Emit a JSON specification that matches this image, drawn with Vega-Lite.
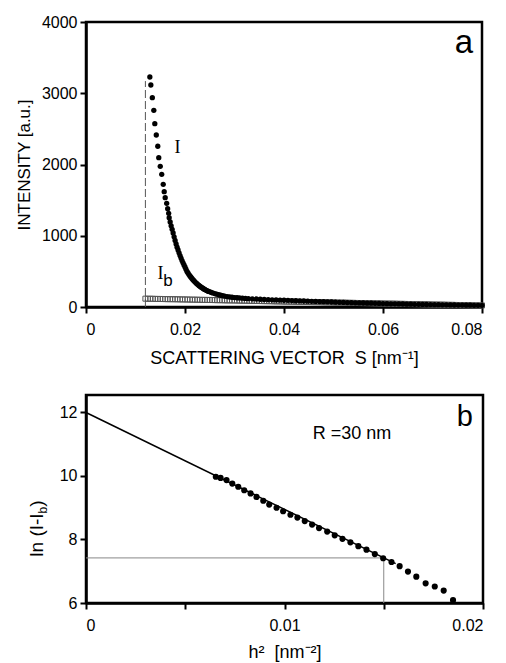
{
  "$schema": "https://vega.github.io/schema/vega-lite/v6.json",
  "background": "white",
  "padding": {"left": 14, "top": 12, "right": 2, "bottom": 2},
  "bounds": "flush",
  "spacing": 88,
  "config": {
    "font": "Liberation Sans",
    "view": {"stroke": "black", "strokeWidth": 2.5},
    "axis": {
      "labelFont": "Liberation Sans", "labelFontSize": 16, "labelColor": "black",
      "titleFont": "Liberation Sans", "titleFontSize": 17, "titleFontWeight": "normal", "titleColor": "black",
      "domainColor": "black", "domainWidth": 2.5, "tickColor": "black", "tickWidth": 2, "tickSize": 6,
      "grid": false
    }
  },
  "datasets": {
    "intensity": [
      {"s":0.0129,"v":3228},{"s":0.0131,"v":3116},{"s":0.0134,"v":2938},{"s":0.0137,"v":2761},{"s":0.0139,"v":2573},
      {"s":0.0142,"v":2414},{"s":0.0145,"v":2256},{"s":0.0147,"v":2096},{"s":0.0150,"v":1975},{"s":0.0153,"v":1862},
      {"s":0.0156,"v":1722},{"s":0.0158,"v":1618},{"s":0.0160,"v":1534},{"s":0.0163,"v":1455},{"s":0.0165,"v":1380},
      {"s":0.0167,"v":1315},{"s":0.0168,"v":1253},{"s":0.0170,"v":1193},{"s":0.0172,"v":1140},{"s":0.0174,"v":1090},
      {"s":0.0176,"v":1040},{"s":0.0178,"v":985},{"s":0.0180,"v":935},{"s":0.0182,"v":885},{"s":0.0184,"v":840},
      {"s":0.0186,"v":800},{"s":0.0188,"v":760},{"s":0.0190,"v":722},{"s":0.0192,"v":686},{"s":0.0194,"v":652},
      {"s":0.0196,"v":620},{"s":0.0198,"v":590},{"s":0.0200,"v":562},{"s":0.0202,"v":530},{"s":0.0204,"v":500},
      {"s":0.0206,"v":477},{"s":0.0208,"v":455},{"s":0.0210,"v":436},{"s":0.0212,"v":418},{"s":0.0214,"v":400},
      {"s":0.0216,"v":384},{"s":0.0218,"v":369},{"s":0.0220,"v":354},{"s":0.0222,"v":340},{"s":0.0224,"v":327},
      {"s":0.0226,"v":315},{"s":0.0228,"v":303},{"s":0.0230,"v":292},{"s":0.0232,"v":282},{"s":0.0234,"v":272},
      {"s":0.0236,"v":263},{"s":0.0238,"v":254},{"s":0.0240,"v":246},{"s":0.0242,"v":238},{"s":0.0244,"v":231},
      {"s":0.0246,"v":224},{"s":0.0248,"v":218},{"s":0.0252,"v":207},{"s":0.0256,"v":197},{"s":0.0260,"v":188},
      {"s":0.0264,"v":180},{"s":0.0268,"v":172},{"s":0.0272,"v":165},{"s":0.0276,"v":159},{"s":0.0280,"v":153},
      {"s":0.0285,"v":147},{"s":0.0290,"v":142},{"s":0.0295,"v":137},{"s":0.0300,"v":133},{"s":0.0305,"v":130},
      {"s":0.0310,"v":127},{"s":0.0316,"v":124},{"s":0.0322,"v":121},{"s":0.0328,"v":118},{"s":0.0336,"v":115},
      {"s":0.0344,"v":112},{"s":0.0352,"v":109},{"s":0.0360,"v":106},{"s":0.0368,"v":104},{"s":0.0376,"v":101},
      {"s":0.0384,"v":99},{"s":0.0392,"v":97},{"s":0.0400,"v":95},{"s":0.0408,"v":93},{"s":0.0416,"v":90},
      {"s":0.0424,"v":88},{"s":0.0432,"v":86},{"s":0.0440,"v":84},{"s":0.0448,"v":82},{"s":0.0456,"v":80},
      {"s":0.0464,"v":78},{"s":0.0472,"v":76},{"s":0.0480,"v":74},{"s":0.0488,"v":72},{"s":0.0496,"v":70},
      {"s":0.0504,"v":68},{"s":0.0512,"v":66},{"s":0.0520,"v":64},{"s":0.0528,"v":62},{"s":0.0536,"v":60},
      {"s":0.0544,"v":59},{"s":0.0552,"v":57},{"s":0.0560,"v":56},{"s":0.0568,"v":54},{"s":0.0576,"v":53},
      {"s":0.0584,"v":51},{"s":0.0592,"v":50},{"s":0.0600,"v":48},{"s":0.0608,"v":47},{"s":0.0616,"v":45},
      {"s":0.0624,"v":44},{"s":0.0632,"v":43},{"s":0.0640,"v":42},{"s":0.0648,"v":40},{"s":0.0656,"v":39},
      {"s":0.0664,"v":38},{"s":0.0672,"v":37},{"s":0.0680,"v":36},{"s":0.0688,"v":35},{"s":0.0696,"v":34},
      {"s":0.0704,"v":33},{"s":0.0712,"v":32},{"s":0.0720,"v":31},{"s":0.0728,"v":30},{"s":0.0736,"v":29},
      {"s":0.0744,"v":28},{"s":0.0752,"v":27},{"s":0.0760,"v":27},{"s":0.0768,"v":26},{"s":0.0776,"v":25},
      {"s":0.0784,"v":24},{"s":0.0792,"v":24},{"s":0.0800,"v":23}
    ],
    "background": [
      {"s":0.0120,"v":117},{"s":0.0125,"v":116},{"s":0.0130,"v":116},{"s":0.0135,"v":115},{"s":0.0140,"v":114},
      {"s":0.0145,"v":113},{"s":0.0150,"v":113},{"s":0.0155,"v":112},{"s":0.0160,"v":111},{"s":0.0165,"v":110},
      {"s":0.0170,"v":110},{"s":0.0175,"v":109},{"s":0.0180,"v":109},{"s":0.0185,"v":108},{"s":0.0190,"v":107},
      {"s":0.0195,"v":106},{"s":0.0200,"v":106},{"s":0.0205,"v":105},{"s":0.0210,"v":104},{"s":0.0215,"v":103},
      {"s":0.0220,"v":103},{"s":0.0225,"v":102},{"s":0.0230,"v":101},{"s":0.0235,"v":100},{"s":0.0240,"v":100},
      {"s":0.0245,"v":99},{"s":0.0250,"v":99},{"s":0.0255,"v":98},{"s":0.0260,"v":97},{"s":0.0265,"v":96},
      {"s":0.0270,"v":96},{"s":0.0275,"v":95},{"s":0.0280,"v":94},{"s":0.0285,"v":93},{"s":0.0290,"v":93},
      {"s":0.0295,"v":92},{"s":0.0300,"v":92},{"s":0.0305,"v":91},{"s":0.0310,"v":90},{"s":0.0315,"v":89},
      {"s":0.0320,"v":89},{"s":0.0325,"v":88},{"s":0.0330,"v":87},{"s":0.0335,"v":86},{"s":0.0340,"v":86},
      {"s":0.0345,"v":85},{"s":0.0350,"v":84},{"s":0.0355,"v":83},{"s":0.0360,"v":83},{"s":0.0365,"v":82},
      {"s":0.0370,"v":82},{"s":0.0375,"v":81},{"s":0.0380,"v":80},{"s":0.0385,"v":79},{"s":0.0390,"v":79},
      {"s":0.0395,"v":78},{"s":0.0400,"v":77},{"s":0.0405,"v":76},{"s":0.0410,"v":76},{"s":0.0415,"v":75},
      {"s":0.0420,"v":75},{"s":0.0425,"v":74},{"s":0.0430,"v":73},{"s":0.0435,"v":72},{"s":0.0440,"v":72},
      {"s":0.0445,"v":71},{"s":0.0450,"v":70},{"s":0.0455,"v":69},{"s":0.0460,"v":69},{"s":0.0465,"v":68},
      {"s":0.0470,"v":68},{"s":0.0475,"v":67},{"s":0.0480,"v":66},{"s":0.0485,"v":65},{"s":0.0490,"v":65},
      {"s":0.0495,"v":64},{"s":0.0500,"v":63},{"s":0.0505,"v":62},{"s":0.0510,"v":62},{"s":0.0515,"v":61},
      {"s":0.0520,"v":61},{"s":0.0525,"v":60},{"s":0.0530,"v":59},{"s":0.0535,"v":58},{"s":0.0540,"v":58},
      {"s":0.0545,"v":57},{"s":0.0550,"v":56},{"s":0.0555,"v":55},{"s":0.0560,"v":55},{"s":0.0565,"v":54},
      {"s":0.0570,"v":54},{"s":0.0575,"v":53},{"s":0.0580,"v":52},{"s":0.0585,"v":51},{"s":0.0590,"v":51},
      {"s":0.0595,"v":50},{"s":0.0600,"v":49},{"s":0.0605,"v":48},{"s":0.0610,"v":48},{"s":0.0615,"v":47},
      {"s":0.0620,"v":47},{"s":0.0625,"v":46},{"s":0.0630,"v":45},{"s":0.0635,"v":44},{"s":0.0640,"v":44},
      {"s":0.0645,"v":43},{"s":0.0650,"v":42},{"s":0.0655,"v":41},{"s":0.0660,"v":41},{"s":0.0665,"v":40},
      {"s":0.0670,"v":40},{"s":0.0675,"v":39},{"s":0.0680,"v":38},{"s":0.0685,"v":37},{"s":0.0690,"v":37},
      {"s":0.0695,"v":36},{"s":0.0700,"v":35},{"s":0.0705,"v":34},{"s":0.0710,"v":34},{"s":0.0715,"v":33},
      {"s":0.0720,"v":33},{"s":0.0725,"v":32},{"s":0.0730,"v":31},{"s":0.0735,"v":30},{"s":0.0740,"v":30},
      {"s":0.0745,"v":29},{"s":0.0750,"v":28},{"s":0.0755,"v":27},{"s":0.0760,"v":27},{"s":0.0765,"v":26},
      {"s":0.0770,"v":26},{"s":0.0775,"v":25},{"s":0.0780,"v":24},{"s":0.0785,"v":23},{"s":0.0790,"v":23},
      {"s":0.0795,"v":22},{"s":0.0800,"v":22}
    ],
    "guinier": [
      {"h2":0.00654,"ln":9.975},{"h2":0.00678,"ln":9.94},{"h2":0.00708,"ln":9.87},{"h2":0.00737,"ln":9.76},
      {"h2":0.00767,"ln":9.66},{"h2":0.00797,"ln":9.55},{"h2":0.00829,"ln":9.45},{"h2":0.00859,"ln":9.34},
      {"h2":0.00893,"ln":9.22},{"h2":0.00923,"ln":9.10},{"h2":0.0096,"ln":9.0},{"h2":0.00993,"ln":8.89},
      {"h2":0.0103,"ln":8.78},{"h2":0.01065,"ln":8.69},{"h2":0.01102,"ln":8.58},{"h2":0.01139,"ln":8.47},
      {"h2":0.01174,"ln":8.36},{"h2":0.01215,"ln":8.25},{"h2":0.01253,"ln":8.13},{"h2":0.01292,"ln":8.02},
      {"h2":0.01332,"ln":7.91},{"h2":0.01372,"ln":7.79},{"h2":0.01413,"ln":7.68},{"h2":0.01455,"ln":7.54},
      {"h2":0.01497,"ln":7.41},{"h2":0.01539,"ln":7.29},{"h2":0.0158,"ln":7.16},{"h2":0.01622,"ln":6.99},
      {"h2":0.01664,"ln":6.83},{"h2":0.01711,"ln":6.62},{"h2":0.01757,"ln":6.52},{"h2":0.01802,"ln":6.39},
      {"h2":0.01849,"ln":6.09}
    ],
    "fit": [
      {"h2":0,"ln":12},{"h2":0.0156,"ln":7.24}
    ]
  },
  "vconcat": [
    {
      "width": 396,
      "height": 285,
      "layer": [
        {
          "data": {"values": [{"s":0.012,"v0":0,"v1":3171}]},
          "mark": {"type": "rule", "color": "#555555", "strokeWidth": 1, "strokeDash": [8, 3]},
          "encoding": {
            "x": {"field": "s", "type": "quantitative"},
            "y": {"field": "v0", "type": "quantitative"},
            "y2": {"field": "v1"}
          }
        },
        {
          "data": {"name": "background"},
          "mark": {"type": "point", "shape": "square", "filled": false, "size": 25, "color": "#555555", "strokeWidth": 1, "opacity": 1},
          "encoding": {
            "x": {"field": "s", "type": "quantitative"},
            "y": {"field": "v", "type": "quantitative"}
          }
        },
        {
          "data": {"name": "intensity"},
          "mark": {"type": "circle", "size": 28, "color": "black", "opacity": 1},
          "encoding": {
            "x": {"field": "s", "type": "quantitative",
              "scale": {"domain": [0, 0.08], "nice": false},
              "axis": {"values": [0, 0.02, 0.04, 0.06, 0.08], "format": ".2~f", "labelPadding": 8, "titlePadding": 12,
                "titleFontSize": 18, "title": "SCATTERING VECTOR\u00a0\u00a0S [nm⁻¹]"}},
            "y": {"field": "v", "type": "quantitative",
              "scale": {"domain": [0, 4000], "nice": false},
              "axis": {"values": [0, 1000, 2000, 3000, 4000], "format": "d", "labelPadding": 3, "titlePadding": 8,
                "title": "INTENSITY [a.u.]"}}
          }
        },
        {
          "data": {"values": [
            {"s":0.0185,"v":2161,"t":"I"},
            {"s":0.01505,"v":393,"t":"I"}
          ]},
          "mark": {"type": "text", "align": "center", "baseline": "alphabetic", "color": "black", "font": "Liberation Serif", "fontSize": 18},
          "encoding": {
            "x": {"field": "s", "type": "quantitative"},
            "y": {"field": "v", "type": "quantitative"},
            "text": {"field": "t"}
          }
        },
        {
          "data": {"values": [{"s":0.01655,"v":295,"t":"b"}]},
          "mark": {"type": "text", "align": "center", "baseline": "alphabetic", "color": "black", "font": "Liberation Sans", "fontSize": 17},
          "encoding": {
            "x": {"field": "s", "type": "quantitative"},
            "y": {"field": "v", "type": "quantitative"},
            "text": {"field": "t"}
          }
        },
        {
          "data": {"values": [{"s":0.07636,"v":3565,"t":"a"}]},
          "mark": {"type": "text", "align": "center", "baseline": "alphabetic", "color": "black", "font": "Liberation Sans", "fontSize": 33},
          "encoding": {
            "x": {"field": "s", "type": "quantitative"},
            "y": {"field": "v", "type": "quantitative"},
            "text": {"field": "t"}
          }
        }
      ]
    },
    {
      "width": 397,
      "height": 208,
      "layer": [
        {
          "data": {"values": [
            {"h2":0,"h2b":0.015,"ln":7.42,"lnb":7.42},
            {"h2":0.015,"h2b":0.015,"ln":6,"lnb":7.42}
          ]},
          "mark": {"type": "rule", "color": "#888888", "strokeWidth": 1},
          "encoding": {
            "x": {"field": "h2", "type": "quantitative"},
            "x2": {"field": "h2b"},
            "y": {"field": "ln", "type": "quantitative"},
            "y2": {"field": "lnb"}
          }
        },
        {
          "data": {"name": "fit"},
          "mark": {"type": "line", "color": "black", "strokeWidth": 1.5},
          "encoding": {
            "x": {"field": "h2", "type": "quantitative"},
            "y": {"field": "ln", "type": "quantitative"}
          }
        },
        {
          "data": {"name": "guinier"},
          "mark": {"type": "circle", "size": 38, "color": "black", "opacity": 1},
          "encoding": {
            "x": {"field": "h2", "type": "quantitative",
              "scale": {"domain": [0, 0.02], "nice": false},
              "axis": {"values": [0, 0.005, 0.01, 0.015, 0.02], "format": ".2~f",
                "labelExpr": "datum.value == 0.005 || datum.value == 0.015 ? '' : datum.label",
                "labelPadding": 8, "titlePadding": 10, "titleFontSize": 18, "title": "h²\u00a0\u00a0[nm⁻²]"}},
            "y": {"field": "ln", "type": "quantitative",
              "scale": {"domain": [6, 12.55], "nice": false, "zero": false},
              "axis": {"values": [6, 8, 10, 12], "labelPadding": 3, "title": null}}
          }
        },
        {
          "data": {"values": [{"h2":0.0134,"ln":11.15,"t":"R =30 nm"}]},
          "mark": {"type": "text", "align": "center", "baseline": "alphabetic", "color": "black", "font": "Liberation Sans", "fontSize": 18},
          "encoding": {
            "x": {"field": "h2", "type": "quantitative"},
            "y": {"field": "ln", "type": "quantitative"},
            "text": {"field": "t"}
          }
        },
        {
          "data": {"values": [{"h2":0.01909,"ln":11.56,"t":"b"}]},
          "mark": {"type": "text", "align": "center", "baseline": "alphabetic", "color": "black", "font": "Liberation Sans", "fontSize": 29},
          "encoding": {
            "x": {"field": "h2", "type": "quantitative"},
            "y": {"field": "ln", "type": "quantitative"},
            "text": {"field": "t"}
          }
        },
        {
          "data": {"values": [
            {"h2":-0.00216,"ln":7.46,"t":"ln (I-I"},
            {"h2":-0.00216,"ln":9.03,"t":")"}
          ]},
          "mark": {"type": "text", "align": "left", "baseline": "alphabetic", "angle": 270, "color": "black", "font": "Liberation Sans", "fontSize": 19},
          "encoding": {
            "x": {"field": "h2", "type": "quantitative"},
            "y": {"field": "ln", "type": "quantitative"},
            "text": {"field": "t"}
          }
        },
        {
          "data": {"values": [{"h2":-0.00198,"ln":8.82,"t":"b"}]},
          "mark": {"type": "text", "align": "left", "baseline": "alphabetic", "angle": 270, "color": "black", "font": "Liberation Sans", "fontSize": 12},
          "encoding": {
            "x": {"field": "h2", "type": "quantitative"},
            "y": {"field": "ln", "type": "quantitative"},
            "text": {"field": "t"}
          }
        }
      ]
    }
  ]
}
